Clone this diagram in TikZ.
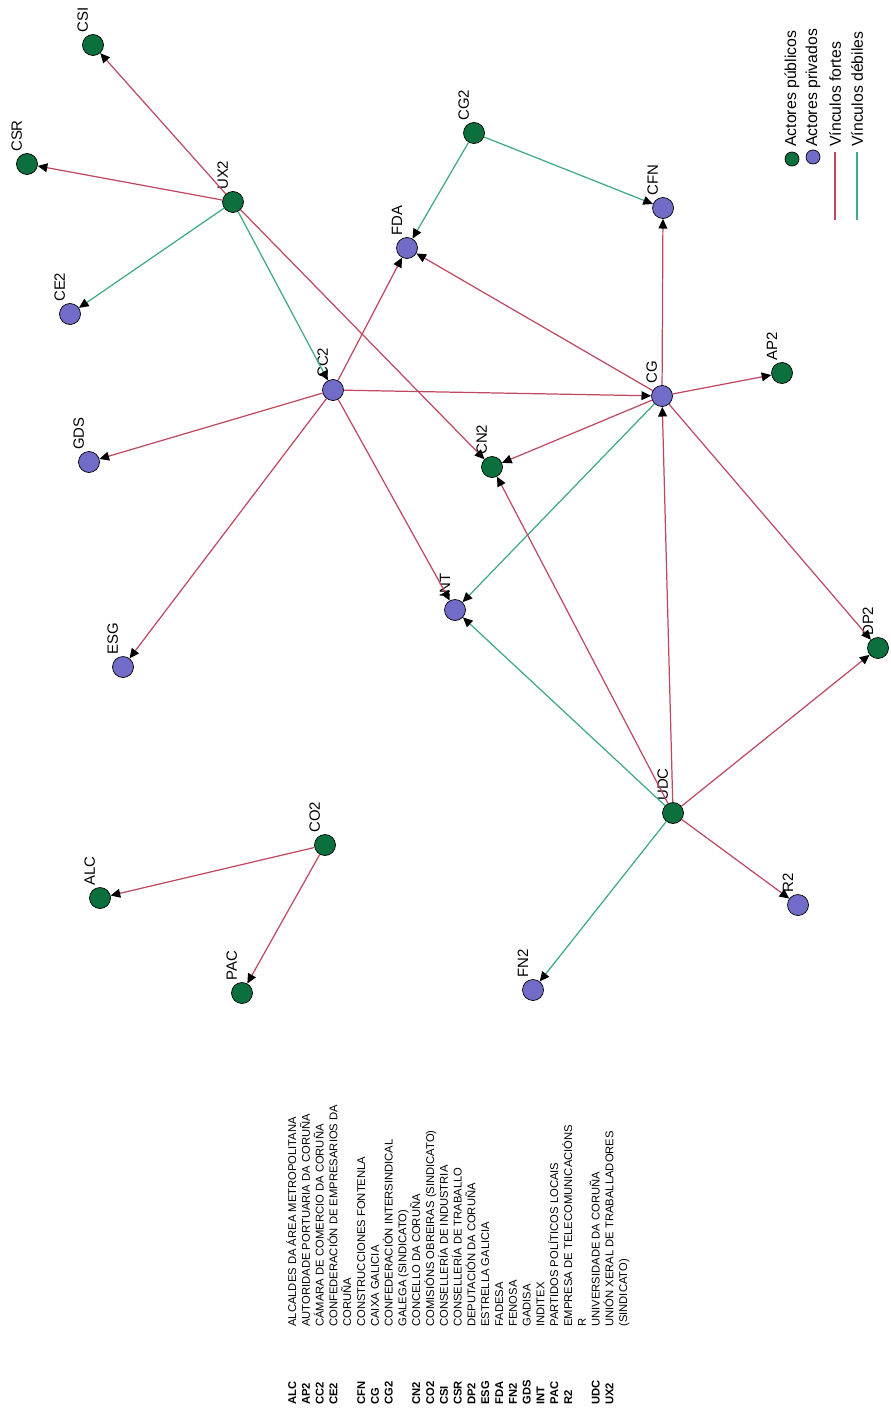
\documentclass[tikz,border=0pt]{standalone}
\usepackage{fontspec}
\setmainfont{Liberation Sans}
\usetikzlibrary{arrows.meta}
\definecolor{pubGreen} {RGB}{12, 112,  62}
\definecolor{privPurp} {RGB}{112, 108, 200}
\definecolor{fortRed}  {RGB}{190,  72,  96}
\definecolor{debGreen} {RGB}{ 62, 170, 128}
\tikzset{
  pub/.style  = {circle, draw=black, line width=0.4pt, fill=pubGreen,
                 minimum size=0.42cm, inner sep=0pt},
  priv/.style = {pub, fill=privPurp},
  nlbl/.style = {rotate=90, anchor=south west, inner sep=0pt, xshift=0.6pt,
                 font=\fontsize{8.5}{10}\selectfont},
  fort/.style = {-{Triangle[length=5.5pt, width=5pt, color=black]},
                 line width=0.7pt, color=fortRed},
  deb/.style  = {-{Triangle[length=5.5pt, width=5pt, color=black]},
                 line width=0.7pt, color=debGreen},
  keytxt/.style = {rotate=90, anchor=west, inner sep=0pt,
                   font=\fontsize{9}{11}\selectfont},
  abbr/.style = {rotate=90, anchor=base west, inner sep=0pt,
                 font=\fontsize{6.4}{7}\selectfont\bfseries},
  desc/.style = {rotate=90, anchor=base west, inner sep=0pt,
                 font=\fontsize{6.4}{7}\selectfont},
}

\begin{document}
\begin{tikzpicture}[x=0.02cm, y=-0.02cm, label distance=2.6pt]
\useasboundingbox (0,0) rectangle (890,1419);

% ---- Actors -----------------------------------------------------------------
\node[pub,  label={[nlbl]90:CSI}] (csi) at (93,45)   {};
\node[pub,  label={[nlbl]90:CSR}] (csr) at (27,164)  {};
\node[pub,  label={[nlbl]90:UX2}] (ux2) at (233,202) {};
\node[priv, label={[nlbl]90:CE2}] (ce2) at (70,314)  {};
\node[priv, label={[nlbl]90:CC2}] (cc2) at (333,390) {};
\node[priv, label={[nlbl]90:GDS}] (gds) at (89,462)  {};
\node[priv, label={[nlbl]90:ESG}] (esg) at (123,667) {};
\node[pub,  label={[nlbl]90:CG2}] (cg2) at (474,133) {};
\node[priv, label={[nlbl]90:FDA}] (fda) at (407,248) {};
\node[priv, label={[nlbl]90:CFN}] (cfn) at (663,208) {};
\node[priv, label={[nlbl]90:CG}]  (cg)  at (662,396) {};
\node[pub,  label={[nlbl]90:AP2}] (ap2) at (782,373) {};
\node[pub,  label={[nlbl]90:CN2}] (cn2) at (492,467) {};
\node[priv, label={[nlbl]90:INT}] (int) at (455,610) {};
\node[pub,  label={[nlbl]90:DP2}] (dp2) at (878,648) {};
\node[pub,  label={[nlbl]90:UDC}] (udc) at (673,813) {};
\node[priv, label={[nlbl]90:R2}]  (r2)  at (798,905) {};
\node[priv, label={[nlbl]90:FN2}] (fn2) at (533,990) {};
\node[pub,  label={[nlbl]90:CO2}] (co2) at (325,845) {};
\node[pub,  label={[nlbl]90:ALC}] (alc) at (100,898) {};
\node[pub,  label={[nlbl]90:PAC}] (pac) at (242,993) {};

% ---- Ties from UX2 and CC2 ----------------------------------------------------
\draw[fort] (ux2) -- (csi);
\draw[fort] (ux2) -- (csr);
\draw[deb]  (ux2) -- (ce2);
\draw[deb]  (ux2) -- (cc2);
\draw[fort] (ux2) -- (cn2);
\draw[fort] (cc2) -- (gds);
\draw[fort] (cc2) -- (esg);
\draw[fort] (cc2) -- (fda);
\draw[fort] (cc2) -- (cg);
\draw[fort] (cc2) -- (int);

% ---- Ties from CG2 and CG -----------------------------------------------------
\draw[deb]  (cg2) -- (fda);
\draw[deb]  (cg2) -- (cfn);
\draw[fort] (cg) -- (cfn);
\draw[fort] (cg) -- (fda);
\draw[fort] (cg) -- (ap2);
\draw[fort] (cg) -- (cn2);
\draw[deb]  (cg) -- (int);
\draw[fort] (cg) -- (dp2);

% ---- Ties from UDC and CO2 ----------------------------------------------------
\draw[fort] (udc) -- (cg);
\draw[fort] (udc) -- (cn2);
\draw[deb]  (udc) -- (int);
\draw[fort] (udc) -- (dp2);
\draw[fort] (udc) -- (r2);
\draw[deb]  (udc) -- (fn2);
\draw[fort] (co2) -- (alc);
\draw[fort] (co2) -- (pac);

% ---- Key --------------------------------------------------------------------
\node[pub,  minimum size=0.28cm] (kpub)  at (792,159) {};
\node[priv, minimum size=0.28cm] (kpriv) at (813,157) {};
\coordinate (kf1) at (835,152);  \coordinate (kf2) at (835,220);
\coordinate (kd1) at (857,152);  \coordinate (kd2) at (857,220);
\draw[line width=0.7pt, fortRed]  (kf1) -- (kf2);
\draw[line width=0.7pt, debGreen] (kd1) -- (kd2);
\node[keytxt] (tpub)  at (792,147) {Actores públicos};
\node[keytxt] (tpriv) at (813,147) {Actores privados};
\node[keytxt] (tfort) at (835,147) {Vínculos fortes};
\node[keytxt] (tdeb)  at (857,147) {Vínculos débiles};

% ---- Abbreviations ----------------------------------------------------------
\foreach \ab/\txt [count=\i from 0] in {
    ALC/ALCALDES DA ÁREA METROPOLITANA,
    AP2/AUTORIDADE PORTUARIA DA CORUÑA,
    CC2/CÁMARA DE COMERCIO DA CORUÑA,
    CE2/CONFEDERACIÓN DE EMPRESARIOS DA,
    {}/CORUÑA,
    CFN/CONSTRUCCIONES FONTENLA,
    CG/CAIXA GALICIA,
    CG2/CONFEDERACIÓN INTERSINDICAL,
    {}/GALEGA (SINDICATO),
    CN2/CONCELLO DA CORUÑA,
    CO2/COMISIÓNS OBREIRAS (SINDICATO),
    CSI/CONSELLERÍA DE INDUSTRIA,
    CSR/CONSELLERÍA DE TRABALLO,
    DP2/DEPUTACIÓN DA CORUÑA,
    ESG/ESTRELLA GALICIA,
    FDA/FADESA,
    FN2/FENOSA,
    GDS/GADISA,
    INT/INDITEX,
    PAC/PARTIDOS POLÍTICOS LOCAIS,
    R2/EMPRESA DE TELECOMUNICACIÓNS,
    {}/R,
    UDC/UNIVERSIDADE DA CORUÑA,
    UX2/UNIÓN XERAL DE TRABALLADORES,
    {}/(SINDICATO)} {
  \node[abbr] (ab\i) at (296+13.8*\i,1405) {\ab};
  \node[desc] (ds\i) at (296+13.8*\i,1327) {\txt};
}

\end{tikzpicture}
\end{document}
